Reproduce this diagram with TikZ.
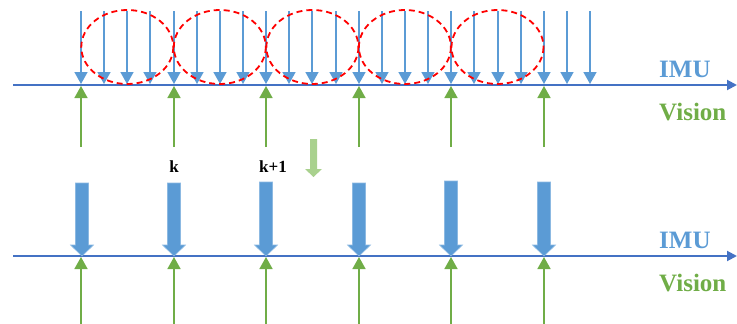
\documentclass[tikz,border=0pt]{standalone}
\usepackage{fontspec}
\setmainfont{Liberation Serif}
\usetikzlibrary{arrows.meta}
\definecolor{imublue}{HTML}{5B9BD5}
\definecolor{axisblue}{HTML}{4472C4}
\definecolor{visgreen}{HTML}{70AD47}
\definecolor{lightgreen}{HTML}{A9D18E}
\tikzset{
  axisline/.style={draw=axisblue, line width=2pt, -{Triangle[length=10pt,width=10pt]}},
  imuarrow/.style={draw=imublue, line width=1.6pt, -{Triangle[length=12pt,width=13pt]}},
  visarrow/.style={draw=visgreen, line width=1.6pt, -{Triangle[length=12pt,width=13pt]}},
  window/.style={draw=red, line width=1.8pt, dash pattern=on 6pt off 4pt},
  bigarrow/.style={fill=imublue, draw=imublue!70!white, line width=0.6pt},
  lbl/.style={font=\bfseries\fontsize{25}{27}\selectfont, inner sep=0pt},
  klbl/.style={font=\bfseries\fontsize{17}{19}\selectfont, inner sep=0pt, text=black},
}
\begin{document}
\begin{tikzpicture}[x=1pt,y=-1pt]
\useasboundingbox (0,0) rectangle (737,324);
% ---------- top timeline ----------
\coordinate (tA0) at (13,85);
\coordinate (tA1) at (737,85);
\draw[axisline] (tA0) -- (tA1);
% IMU arrows
\foreach \i in {0,...,22} {
  \coordinate (it\i) at ({round(81+\i*23.14)},11);
  \coordinate (ib\i) at ({round(81+\i*23.14)},84);
  \draw[imuarrow] (it\i) -- (ib\i);
}
% red windows
\foreach \c in {127.3,219.8,312.4,404.9,497.5} {
  \draw[window] (\c,47) ellipse [x radius=46, y radius=37];
}
% vision arrows top
\foreach \i/\x in {0/81,1/174,2/266,3/359,4/451,5/544} {
  \coordinate (vb\i) at (\x,147);
  \coordinate (vt\i) at (\x,86);
  \draw[visarrow] (vb\i) -- (vt\i);
}
\node[lbl, text=imublue, anchor=base west] (imu1) at (659,77) {IMU};
\node[lbl, text=visgreen, anchor=base west] (vis1) at (659,120) {Vision};
% ---------- transition arrow ----------
\fill[lightgreen] (310,139) -- (317,139) -- (317,169) -- (322,169) -- (313.5,177) -- (305,169) -- (310,169) -- cycle;
% ---------- bottom timeline ----------
\coordinate (bA0) at (13,256);
\coordinate (bA1) at (737,256);
\draw[axisline] (bA0) -- (bA1);
\foreach \i/\x/\t in {0/82/183,1/174/183,2/266/182,3/359/183,4/451/181,5/544/182} {
  \draw[bigarrow] ({\x-6.5},\t) -- ({\x+6.5},\t) -- ({\x+6.5},245) -- ({\x+11.5},245) -- (\x,256) -- ({\x-11.5},245) -- ({\x-6.5},245) -- cycle;
}
\foreach \i/\x in {0/81,1/174,2/266,3/359,4/451,5/544} {
  \coordinate (wb\i) at (\x,324);
  \coordinate (wt\i) at (\x,257);
  \draw[visarrow] (wb\i) -- (wt\i);
}
\node[klbl, anchor=base] (k) at (174,172) {k};
\node[klbl, anchor=base] (k1) at (273,172) {k+1};
\node[lbl, text=imublue, anchor=base west] (imu2) at (659,248) {IMU};
\node[lbl, text=visgreen, anchor=base west] (vis2) at (659,291) {Vision};
\end{tikzpicture}
\end{document}
